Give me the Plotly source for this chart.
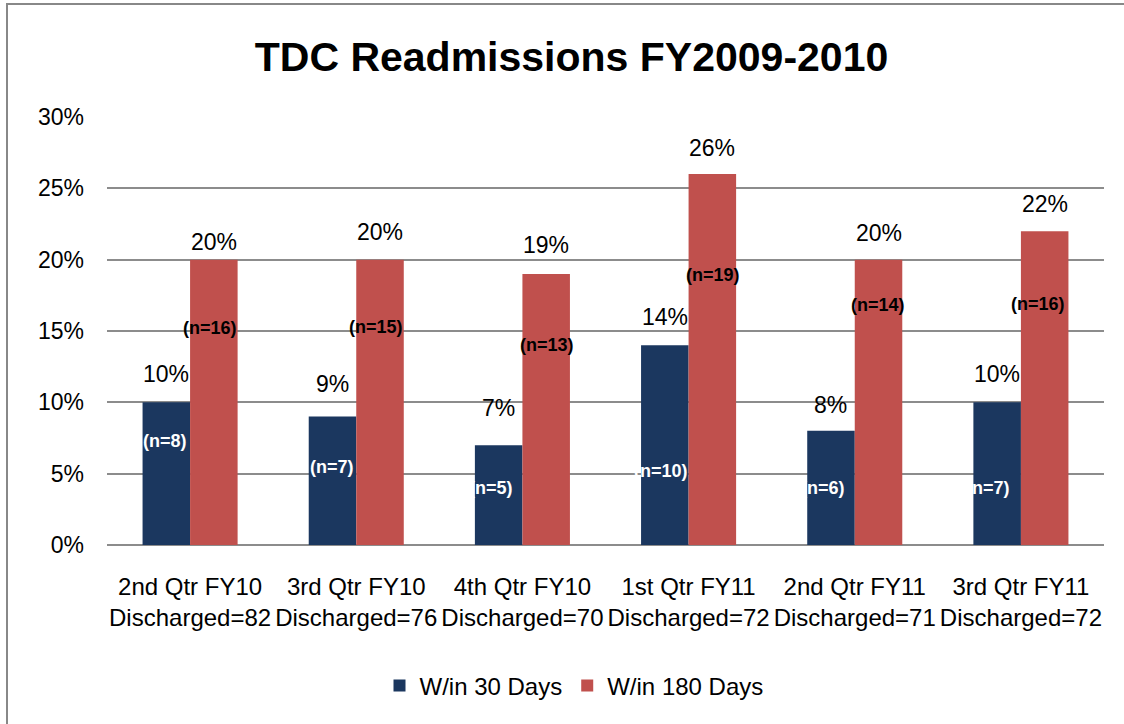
import plotly.graph_objects as go

# ---------------- data ----------------
quarters = ["2nd Qtr FY10", "3rd Qtr FY10", "4th Qtr FY10",
            "1st Qtr FY11", "2nd Qtr FY11", "3rd Qtr FY11"]
discharged = [82, 76, 70, 72, 71, 72]
within_30 = [10, 9, 7, 14, 8, 10]        # percent
within_180 = [20, 20, 19, 26, 20, 22]    # percent
n_30 = [8, 7, 5, 10, 6, 7]
n_180 = [16, 15, 13, 19, 14, 16]
y_ticks = [0, 5, 10, 15, 20, 25, 30]
y_tick_text = [f"{v}%" for v in y_ticks]

# ---------------- label placement (styling) ----------------
pct30_gap = [20, 25, 29, 20, 18, 20]       # px from bar top to text
pct180_gap = [10, 20, 21, 18, 19, 19]
n30_label_level = [7.3, 5.5, 4.0, 5.2, 4.0, 4.0]
n30_dx = [-1, 0, -8, -4, -8, -9]
n180_label_level = [15.2, 15.3, 14.0, 18.9, 16.8, 16.9]
n180_dx = [-4, -4, 1, 1, -1, -7]

NAVY = "#1B375F"
RED = "#C0504D"
GRID = "#8C8C8C"
FONT = "Liberation Sans"

W, H = 1124, 724
ML, MR, MT, MB = 107, 20, 117, 179
PW, PH = W - ML - MR, H - MT - MB

categories = [f"{q}<br>Discharged={d}" for q, d in zip(quarters, discharged)]

fig = go.Figure()
fig.add_trace(go.Bar(x=categories, y=within_30, name="W/in 30 Days",
                     marker=dict(color=NAVY, line=dict(width=0))))
fig.add_trace(go.Bar(x=categories, y=within_180, name="W/in 180 Days",
                     marker=dict(color=RED, line=dict(width=0))))

bargap = 0.428
cat_px = PW / len(categories)
bar_px = cat_px * (1 - bargap) / 2

ann = []
for i, c in enumerate(categories):
    ann.append(dict(x=c, y=within_30[i], xref="x", yref="y", text=f"{within_30[i]}%",
                    showarrow=False, xshift=-bar_px / 2, yanchor="bottom",
                    yshift=pct30_gap[i] - 7,
                    font=dict(family=FONT, size=23, color="black")))
    ann.append(dict(x=c, y=within_180[i], xref="x", yref="y", text=f"{within_180[i]}%",
                    showarrow=False, xshift=bar_px / 2, yanchor="bottom",
                    yshift=pct180_gap[i] - 7,
                    font=dict(family=FONT, size=23, color="black")))
    ann.append(dict(x=c, y=n30_label_level[i], xref="x", yref="y", text=f"<b>(n={n_30[i]})</b>",
                    showarrow=False, xshift=-bar_px / 2 + n30_dx[i], yanchor="middle",
                    font=dict(family=FONT, size=18, color="white")))
    ann.append(dict(x=c, y=n180_label_level[i], xref="x", yref="y", text=f"<b>(n={n_180[i]})</b>",
                    showarrow=False, xshift=bar_px / 2 + n180_dx[i], yanchor="middle",
                    font=dict(family=FONT, size=18, color="black")))

# outer chart border (partly off-canvas on right/bottom, as in the reference)
bx0 = (7 - ML) / PW
bx1 = (W + 6 - ML) / PW
by1 = (H - MB - 4) / PH
by0 = (H - MB - (H + 6)) / PH
shapes = [dict(type="rect", xref="paper", yref="paper", x0=bx0, x1=bx1, y0=by0, y1=by1,
               line=dict(color="#888888", width=2), layer="below")]

fig.update_layout(
    width=W, height=H,
    margin=dict(l=ML, r=MR, t=MT, b=MB, autoexpand=False),
    paper_bgcolor="white", plot_bgcolor="white",
    barmode="group", bargap=bargap, bargroupgap=0,
    font=dict(family=FONT, size=23, color="black"),
    title=dict(text="<b>TDC Readmissions FY2009-2010</b>",
               font=dict(family=FONT, size=41, color="black"),
               x=571.5 / W, xanchor="center", xref="container",
               y=1 - 57 / H, yanchor="middle", yref="container"),
    xaxis=dict(showgrid=False, showline=False, ticks="",
               tickfont=dict(family=FONT, size=24, color="black"),
               ticklabelstandoff=25),
    yaxis=dict(range=[0, 30], tickmode="array", tickvals=y_ticks, ticktext=y_tick_text,
               showgrid=True, gridcolor=GRID, gridwidth=1.5,
               zeroline=True, zerolinecolor=GRID, zerolinewidth=2,
               showline=False, ticks="",
               tickfont=dict(family=FONT, size=23, color="black"),
               ticklabelstandoff=22),
    legend=dict(orientation="h", x=574 / W, xref="container", xanchor="center",
                y=1 - 686 / H, yref="container", yanchor="middle",
                font=dict(family=FONT, size=24, color="black"),
                itemwidth=30, traceorder="normal"),
    annotations=ann,
    shapes=shapes,
)

fig.write_html("out.html", config={"displayModeBar": False},
               post_script="document.body.style.margin='0';")
